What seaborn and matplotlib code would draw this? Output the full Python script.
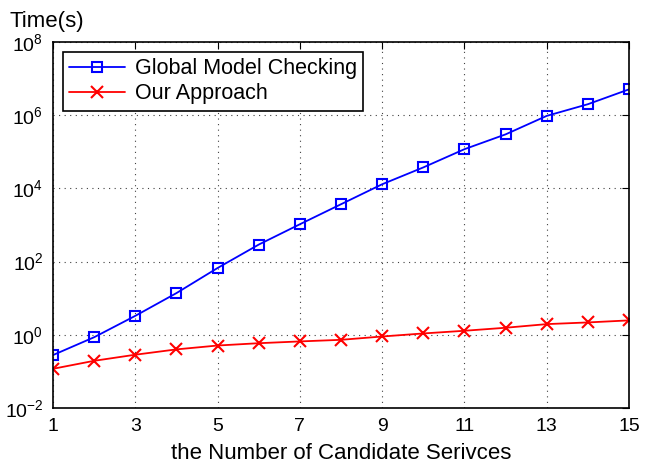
import matplotlib
matplotlib.use('Agg')
import matplotlib.pyplot as plt
import seaborn as sns

# data
candidates = list(range(1, 16))
global_mc = [0.28, 0.86, 3.3, 13.8, 67, 292, 1050, 3700, 13000, 37500,
             118000, 300000, 960000, 2.0e6, 5.1e6]
our_approach = [0.118, 0.195, 0.286, 0.40, 0.51, 0.59, 0.66, 0.73, 0.90,
                1.09, 1.29, 1.56, 1.96, 2.18, 2.48]
x_ticks = [1, 3, 5, 7, 9, 11, 13, 15]
y_ticks = [1e-2, 1e0, 1e2, 1e4, 1e6, 1e8]

sns.set_style('white')
plt.rcParams['font.family'] = ['Liberation Sans', 'DejaVu Sans']
plt.rcParams['mathtext.fontset'] = 'custom'
plt.rcParams['mathtext.rm'] = 'Liberation Sans'
plt.rcParams['text.color'] = 'black'
plt.rcParams['axes.labelcolor'] = 'black'
plt.rcParams['xtick.color'] = 'black'
plt.rcParams['ytick.color'] = 'black'

fig = plt.figure(figsize=(6.57, 4.67), dpi=100)
ax = fig.add_axes([0.0807, 0.1263, 0.8767, 0.7837])

sns.lineplot(x=candidates, y=global_mc, color='#0000ff', marker='s',
             markersize=7, markerfacecolor='none', markeredgecolor='#0000ff',
             markeredgewidth=1.5, linewidth=1.3,
             label='Global Model Checking', ax=ax)
sns.lineplot(x=candidates, y=our_approach, color='#ff0000', marker='x',
             markersize=9, markeredgecolor='#ff0000', markeredgewidth=1.5,
             linewidth=1.3, label='Our Approach', ax=ax)

ax.set_yscale('log')
ax.set_xlim(1, 15)
ax.set_ylim(1e-2, 1e8)
ax.set_xticks(x_ticks)
ax.set_yticks(y_ticks)
ax.yaxis.set_minor_locator(matplotlib.ticker.NullLocator())
ax.tick_params(direction='in', top=True, right=True, labelsize=14,
               length=5, width=0.8, pad=7)
ax.grid(True, linestyle=(0, (1, 4)), color='#404040', linewidth=0.8)
for s in ax.spines.values():
    s.set_linewidth(1.2)
    s.set_color('black')

ax.set_xlabel('the Number of Candidate Serivces', fontsize=16, labelpad=6)
ax.set_ylabel('')
fig.text(0.015, 0.955, 'Time(s)', fontsize=16, va='center', ha='left')

leg = ax.legend(loc='upper left', fontsize=15.5,
                frameon=True, fancybox=False, edgecolor='black',
                borderaxespad=0.45, handlelength=2.6, handletextpad=0.45,
                borderpad=0.3, labelspacing=0.2, framealpha=1)
leg.get_frame().set_linewidth(1.2)

fig.savefig('out.png', dpi=100)
